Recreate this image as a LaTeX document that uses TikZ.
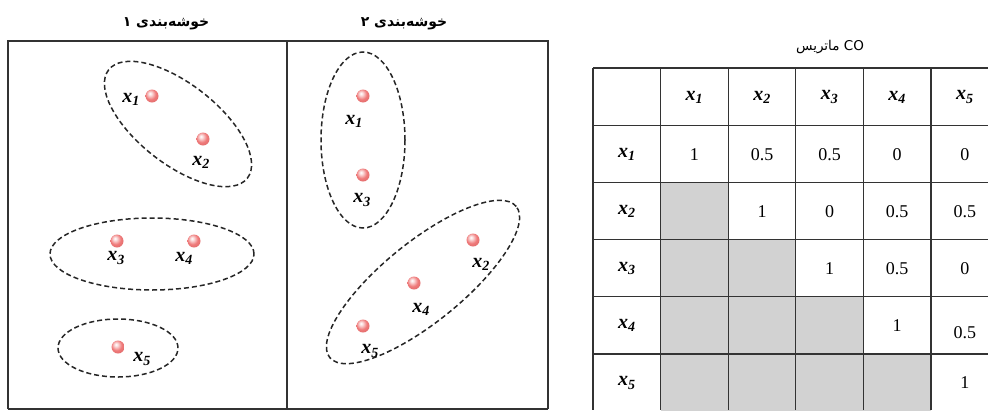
\documentclass[tikz,border=0pt]{standalone}
\usepackage{fontspec}
\setmainfont{Liberation Serif}
\newfontfamily\arabicfont[Script=Arabic]{DejaVu Sans}
\TeXXeTstate=1
\usetikzlibrary{shapes.geometric}
\definecolor{frame}{HTML}{333333}
\definecolor{cellgray}{HTML}{D2D2D2}
\definecolor{ballhi}{HTML}{FBE0E0}
\definecolor{ballred}{HTML}{EF7B7B}
\definecolor{balledge}{HTML}{D45A5A}
\pgfdeclareradialshading{pinkball}{\pgfpoint{-8bp}{10bp}}{%
  color(0bp)=(white); color(6bp)=(ballhi); color(20bp)=(ballred);
  color(45bp)=(balledge); color(70bp)=(balledge)}
\newcommand{\xv}[1]{\textbf{\textit{x}}\textsubscript{\textbf{\textit{#1}}}}
\tikzset{
  panel/.style    = {draw=frame, line width=1.6pt},
  grp/.style      = {ellipse, draw=black!85, dash pattern=on 5pt off 3pt,
                    line width=1.5pt, inner sep=0pt},
  sample/.style   = {circle, shade, shading=pinkball,
                    minimum size=13pt, inner sep=0pt},
  lbl/.style      = {font=\fontsize{20}{20}\selectfont, inner sep=0pt},
  ttl/.style      = {font=\arabicfont\bfseries\fontsize{14}{14}\selectfont, inner sep=0pt},
  mttl/.style     = {font=\arabicfont\fontsize{13.5}{13.5}\selectfont, inner sep=0pt},
  tabline/.style  = {draw=frame, line width=1.3pt},
  greycell/.style = {fill=cellgray},
  val/.style      = {font=\fontsize{18}{18}\selectfont, inner sep=0pt},
}

\begin{document}
\begin{tikzpicture}[x=1pt, y=-1pt]

  \useasboundingbox (0,0) rectangle (988,410);
  \fill[white] (0,0) rectangle (988,410);

  % Titles
  \node[ttl] (t1) at (166,24) {\beginR خوشه‌بندی ۱\endR};
  \node[ttl] (t2) at (404,24) {\beginR خوشه‌بندی ۲\endR};
  \node[mttl] (t3) at (830,47) {\beginR ماتریس\endR{} CO};

  % Two panels
  \draw[panel] (8,409) |- (287,41) -- (287,409);
  \draw[panel] (287,41) -| (548,409);
  \draw[panel] (8,409) -- (548,409);

  % Clustering 1
  \node[grp, minimum width=176pt, minimum height=80pt, rotate=-38] (g11) at (178,124) {};
  \node[grp, minimum width=204pt, minimum height=72pt] (g12) at (152,254) {};
  \node[grp, minimum width=120pt, minimum height=58pt] (g13) at (118,348) {};

  \node[sample] (a1) at (152,96)  {};
  \node[sample] (a2) at (203,139) {};
  \node[sample] (a3) at (117,241) {};
  \node[sample] (a4) at (194,241) {};
  \node[sample] (a5) at (118,347) {};
  \node[lbl] (la1) at (131,99)  {\xv{1}};
  \node[lbl] (la2) at (201,162) {\xv{2}};
  \node[lbl] (la3) at (116,258) {\xv{3}};
  \node[lbl] (la4) at (184,258) {\xv{4}};
  \node[lbl] (la5) at (142,359) {\xv{5}};

  % Clustering 2
  \node[grp, minimum width=84pt, minimum height=176pt] (g21) at (363,140) {};
  \node[grp, minimum width=240pt, minimum height=80pt, rotate=39] (g22) at (423,282) {};

  \node[sample] (b1) at (363,96)  {};
  \node[sample] (b3) at (363,175) {};
  \node[sample] (b2) at (473,240) {};
  \node[sample] (b4) at (414,283) {};
  \node[sample] (b5) at (363,326) {};
  \node[lbl] (lb1) at (354,121) {\xv{1}};
  \node[lbl] (lb3) at (362,200) {\xv{3}};
  \node[lbl] (lb2) at (481,264) {\xv{2}};
  \node[lbl] (lb4) at (421,309) {\xv{4}};
  \node[lbl] (lb5) at (370,351) {\xv{5}};

  % CO matrix: shaded lower part
  \foreach \r/\c in {2/1, 3/1, 3/2, 4/1, 4/2, 4/3, 5/1, 5/2, 5/3, 5/4}
    \fill[greycell] ({593+67.6*\c},{68+57.2*\r}) rectangle ++(67.6,57.2);

  % CO matrix: grid
  \foreach \r in {0,...,5}
    \draw[tabline] (593,{68+57.2*\r}) -- (988,{68+57.2*\r});
  \foreach \c in {0,...,5}
    \draw[tabline] ({593+67.6*\c},68) -- ({593+67.6*\c},410);

  % CO matrix: headers
  \foreach \i in {1,...,5} {
    \node[lbl] (h\i) at ({626.8+67.6*\i},97) {\xv{\i}};
    \node[lbl] (v\i) at (626.8,{97+57.2*\i}) {\xv{\i}};
  }

  % CO matrix: entries
  \foreach \r/\c/\v/\dy in {1/1/1/0, 1/2/0.5/0, 1/3/0.5/0, 1/4/0/0, 1/5/0/0,
                            2/2/1/0, 2/3/0/0, 2/4/0.5/0, 2/5/0.5/0,
                            3/3/1/0, 3/4/0.5/0, 3/5/0/0,
                            4/4/1/0, 4/5/0.5/7,
                            5/5/1/0}
    \node[val] (m\r\c) at ({626.8+67.6*\c},{97+57.2*\r+\dy}) {\v};

\end{tikzpicture}
\end{document}
